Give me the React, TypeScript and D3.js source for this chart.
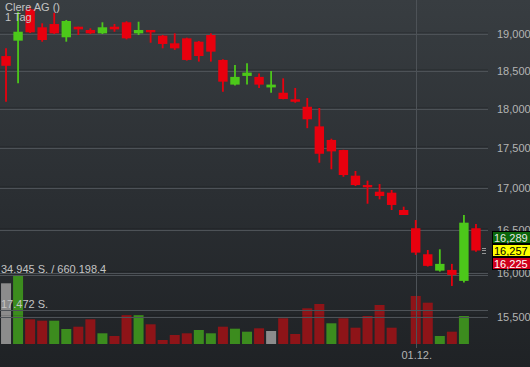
import React from "react"
import * as d3 from "d3"

// daily OHLC, oldest first
const opens = [18700, 18909, 19340, 19092, 19137, 18955, 19100, 19055, 19009, 19100, 19161, 19009, 19055, 18977, 18873, 18941, 18895, 18986, 18648, 18320, 18435, 18422, 18283, 18213, 18127, 18030, 17777, 17604, 17477, 17157, 17042, 16960, 16948, 16738, 16520, 16213, 16023, 16031, 15905, 16520]
const highs = [18805, 19307, 19387, 19147, 19293, 19193, 19100, 19078, 19161, 19137, 19175, 19169, 19055, 18986, 19009, 18950, 18905, 19009, 18657, 18581, 18603, 18466, 18500, 18403, 18275, 18144, 18014, 17620, 17480, 17215, 17096, 17054, 16981, 16778, 16618, 16263, 16271, 16101, 16678, 16570]
const lows = [18095, 18338, 19014, 18895, 19000, 18895, 18986, 19000, 19000, 19031, 18927, 18986, 18881, 18805, 18783, 18639, 18626, 18626, 18227, 18307, 18320, 18275, 18213, 18127, 18082, 17754, 17318, 17236, 17143, 17030, 16814, 16867, 16738, 16678, 16205, 16070, 16012, 15847, 15886, 16243]
const closes = [18570, 19031, 19023, 18918, 19009, 19179, 19064, 19009, 19092, 19064, 18941, 19055, 19023, 18864, 18805, 18648, 18701, 18760, 18359, 18422, 18479, 18320, 18320, 18131, 18095, 17868, 17430, 17460, 17165, 17042, 17014, 16908, 16799, 16678, 16232, 16078, 16101, 15974, 16586, 16257]
const volumes = [30741, 34945, 12510, 11800, 11800, 7597, 8762, 12510, 5419, 4052, 14687, 14687, 9977, 2026, 4558, 5419, 7090, 5419, 8762, 7749, 6229, 7951, 6584, 13016, 5065, 18080, 20258, 10484, 13016, 8255, 14181, 19752, 8255, 0, 24310, 20917, 4052, 6229, 14181, 0]

const priceTicks = [19000, 18500, 18000, 17500, 17000, 16500, 16000, 15500]
const dateTicks = [{ index: 34, label: "01.12." }]
const quotes = [
  { label: "16,289", fill: "#0b660b", color: "#e8e8e8", offset: -13 },
  { label: "16,257", fill: "#ffff00", color: "#000000", offset: 0 },
  { label: "16,225", fill: "#d0001c", color: "#ffffff", offset: 13 },
]
const lastPrice = 16257
const volMax = 34945

const W = 530
const H = 367
const font = "'Liberation Sans', Arial, sans-serif"

export default function App() {
  const idx = d3.range(closes.length)
  const x = d3.scaleBand<number>().domain(idx).range([0, 482]).padding(0)
  const cx = (i: number) => (x(i) as number) + x.bandwidth() / 2
  const y = d3.scaleLog().domain([19000, 15500]).range([34, 316.7])
  const yv = d3.scaleLinear().domain([0, volMax]).range([344, 275])
  const fmt = d3.format(",")

  const red = "#e8000e"
  const green = "#4cc81a"
  const volColor = (i: number) => {
    if (i === 0 || closes[i] === closes[i - 1]) return "#8c8c8c"
    return closes[i] > closes[i - 1] ? "#3c8c1e" : "#8e1418"
  }

  const bodyW = 9.4
  const volW = 10
  const gridRight = 488
  const yLast = y(lastPrice)

  return (
    <svg width={W} height={H} style={{ position: "absolute", left: 0, top: 0, display: "block" }}>
      <defs>
        <linearGradient id="bg" x1="0" y1="0" x2="0" y2="1">
          <stop offset="0%" stopColor="#383d41" />
          <stop offset="55%" stopColor="#2a2e32" />
          <stop offset="100%" stopColor="#1f2225" />
        </linearGradient>
      </defs>
      <rect x={0} y={0} width={W} height={H} fill="url(#bg)" />

      {/* volume bars */}
      {volumes.map((v, i) =>
        v > 0 ? (
          <rect key={"v" + i} x={cx(i) - volW / 2} y={yv(v)} width={volW} height={yv(0) - yv(v)} fill={volColor(i)} />
        ) : null
      )}

      {/* price grid */}
      {priceTicks.map((t) => (
        <g key={"g" + t}>
          <line x1={0} x2={gridRight} y1={Math.round(y(t)) - 2 + 0.5} y2={Math.round(y(t)) - 2 + 0.5} stroke="#000" strokeOpacity={0.12} />
          <line x1={0} x2={gridRight} y1={Math.round(y(t)) + 0.5} y2={Math.round(y(t)) + 0.5} stroke="#4d5257" />
        </g>
      ))}
      {/* volume grid */}
      <line x1={0} x2={gridRight} y1={Math.round(yv(volMax)) + 0.5} y2={Math.round(yv(volMax)) + 0.5} stroke="#4d5257" />
      <line x1={0} x2={gridRight} y1={Math.round(yv(volMax / 2)) + 0.5} y2={Math.round(yv(volMax / 2)) + 0.5} stroke="#4d5257" />

      {/* date grid */}
      {dateTicks.map((d) => (
        <g key={d.label}>
          <line x1={Math.round(cx(d.index)) + 0.5} x2={Math.round(cx(d.index)) + 0.5} y1={0} y2={348} stroke="#4d5257" />
          <text x={cx(d.index) + 1} y={359} textAnchor="middle" fill="#b4b4b4" fontFamily={font} fontSize={11}>
            {d.label}
          </text>
        </g>
      ))}

      {/* candles */}
      {idx.map((i) => {
        const up = closes[i] >= opens[i]
        const c = up ? green : red
        const top = y(Math.max(opens[i], closes[i]))
        const bot = y(Math.min(opens[i], closes[i]))
        return (
          <g key={"c" + i}>
            <line x1={cx(i)} x2={cx(i)} y1={y(highs[i])} y2={y(lows[i])} stroke={c} strokeWidth={1.8} />
            <rect x={cx(i) - bodyW / 2} y={top} width={bodyW} height={Math.max(bot - top, 1.5)} fill={c} />
          </g>
        )
      })}

      {/* title */}
      <text x={5} y={11} fill="#c4c4c4" fontFamily={font} fontSize={11}>Clere AG ()</text>
      <text x={5} y={21} fill="#c4c4c4" fontFamily={font} fontSize={11}>1 Tag</text>

      {/* volume labels */}
      <text x={1} y={273} fill="#c4c4c4" fontFamily={font} fontSize={11}>34.945 S. / 660.198.4</text>
      <text x={1} y={308} fill="#c4c4c4" fontFamily={font} fontSize={11}>17.472 S.</text>

      {/* price axis */}
      {priceTicks.map((t) => (
        <text key={"t" + t} x={497} y={y(t) + 4} fill="#b4b4b4" fontFamily={font} fontSize={11}>
          {fmt(t)}
        </text>
      ))}

      {/* last price marker */}
      {[-2.5, 0, 2.5].map((d) => (
        <line key={"m" + d} x1={482} x2={486} y1={Math.round(yLast + d) + 0.5} y2={Math.round(yLast + d) + 0.5} stroke="#b0b0b0" strokeOpacity={0.8} />
      ))}
      {quotes.map((q) => (
        <g key={q.label}>
          <rect x={492.5} y={yLast + q.offset - 6} width={40} height={12} fill={q.fill} stroke="#000" />
          <text x={494} y={yLast + q.offset + 4.5} fill={q.color} fontFamily={font} fontSize={11}>
            {q.label}
          </text>
        </g>
      ))}
    </svg>
  )
}
